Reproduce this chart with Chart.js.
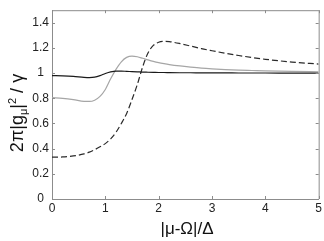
<!DOCTYPE html>
<html>
<head>
<meta charset="utf-8">
<script src="https://cdn.jsdelivr.net/npm/chart.js@4"></script>
<style>
  body { margin: 0; background: #fff; }
  canvas { display: block; }
</style>
</head>
<body>
<canvas id="chart1" width="324" height="241"></canvas>
<script>
// values
const xValues = [0, 0.2, 0.4, 0.6, 0.7, 0.8, 0.9, 1.0, 1.1, 1.2, 1.3, 1.4, 1.5, 1.6, 1.7, 1.8, 1.9, 2.0, 2.1, 2.2, 2.4, 2.6, 2.8, 3.0, 3.25, 3.5, 3.75, 4.0, 4.5, 5.0]
const solidValues = [0.980, 0.979, 0.975, 0.967, 0.965, 0.968, 0.980, 0.997, 1.010, 1.016, 1.016, 1.014, 1.012, 1.010, 1.008, 1.007, 1.006, 1.005, 1.005, 1.004, 1.003, 1.003, 1.002, 1.002, 1.002, 1.001, 1.001, 1.001, 1.000, 1.000]
const grayValues = [0.805, 0.800, 0.790, 0.776, 0.775, 0.785, 0.815, 0.870, 0.955, 1.030, 1.090, 1.125, 1.135, 1.130, 1.118, 1.105, 1.093, 1.083, 1.075, 1.068, 1.057, 1.048, 1.040, 1.034, 1.028, 1.024, 1.021, 1.018, 1.014, 1.011]
const dashedValues = [0.332, 0.334, 0.342, 0.358, 0.372, 0.392, 0.415, 0.440, 0.478, 0.530, 0.600, 0.680, 0.790, 0.910, 1.050, 1.160, 1.220, 1.245, 1.252, 1.250, 1.235, 1.215, 1.195, 1.178, 1.158, 1.140, 1.124, 1.110, 1.088, 1.072]
const xTicks = [0, 1, 2, 3, 4, 5]
const yTicks = [0, 0.2, 0.4, 0.6, 0.8, 1.0, 1.2, 1.4]

const FONT = "Arial, 'Liberation Sans', sans-serif"
const AXIS = '#8c8c8c'

let toPoints = (ys) => xValues.map((x, i) => ({ x, y: ys[i] }))

// box, inward ticks and axis titles like the matlab figure
const framePlugin = {
  id: 'frame',
  afterDraw(chart) {
    const { ctx, chartArea: a, scales } = chart
    ctx.save()
    ctx.strokeStyle = AXIS
    ctx.lineWidth = 1
    ctx.beginPath()
    ctx.moveTo(a.left, a.top + 0.5)
    ctx.lineTo(a.right + 0.5, a.top + 0.5)
    ctx.lineTo(a.right + 0.5, a.bottom)
    xTicks.forEach(v => {
      let px = Math.round(scales.x.getPixelForValue(v)) + 0.5
      ctx.moveTo(px, a.bottom); ctx.lineTo(px, a.bottom - 3)
      ctx.moveTo(px, a.top); ctx.lineTo(px, a.top + 3)
    })
    yTicks.forEach(v => {
      let py = Math.round(scales.y.getPixelForValue(v)) + 0.5
      ctx.moveTo(a.left, py); ctx.lineTo(a.left + 3, py)
      ctx.moveTo(a.right, py); ctx.lineTo(a.right - 3, py)
    })
    ctx.stroke()

    // x title
    ctx.fillStyle = '#111'
    ctx.font = '17px ' + FONT
    ctx.textAlign = 'center'
    ctx.textBaseline = 'middle'
    ctx.fillText('|μ-Ω|/Δ', 187, 229)

    // y title with sub/superscript
    const parts = [
      { t: '2π|g', size: 18, dy: 0 },
      { t: 'μ', size: 11, dy: 4 },
      { t: '|', size: 18, dy: 0 },
      { t: '2', size: 11, dy: -7 },
      { t: ' / γ', size: 18, dy: 0 }
    ]
    let total = 0
    parts.forEach(p => { ctx.font = p.size + 'px ' + FONT; p.w = ctx.measureText(p.t).width; total += p.w })
    ctx.translate(17, 113)
    ctx.rotate(-Math.PI / 2)
    ctx.textAlign = 'left'
    ctx.textBaseline = 'alphabetic'
    let cx = -total / 2
    parts.forEach(p => {
      ctx.font = p.size + 'px ' + FONT
      ctx.fillText(p.t, cx, 6 + p.dy)
      cx += p.w
    })
    ctx.restore()
  }
}

new Chart(document.getElementById('chart1').getContext('2d'), {
  type: 'line',
  data: {
    datasets: [{
      label: 'solid',
      data: toPoints(solidValues),
      borderColor: '#1a1a1a',
      borderWidth: 1.2,
      pointRadius: 0,
      cubicInterpolationMode: 'monotone'
    }, {
      label: 'gray',
      data: toPoints(grayValues),
      borderColor: '#a6a6a6',
      borderWidth: 1.2,
      pointRadius: 0,
      cubicInterpolationMode: 'monotone'
    }, {
      label: 'dashed',
      data: toPoints(dashedValues),
      borderColor: '#2a2a2a',
      borderWidth: 1.2,
      borderDash: [6, 3],
      pointRadius: 0,
      cubicInterpolationMode: 'monotone'
    }]
  },
  options: {
    responsive: false,
    animation: false,
    devicePixelRatio: 1,
    layout: { padding: { top: 2, right: 5, left: 0, bottom: 0 } },
    plugins: { legend: { display: false }, tooltip: { enabled: false } },
    scales: {
      x: {
        type: 'linear',
        min: 0,
        max: 5,
        afterBuildTicks: (s) => { s.ticks = xTicks.map(v => ({ value: v })) },
        afterFit: (s) => { s.height = 42 },
        grid: { display: false, drawTicks: false },
        border: { display: true, color: AXIS },
        ticks: { padding: 2, color: '#222', font: { family: FONT, size: 12 }, maxRotation: 0 }
      },
      y: {
        min: 0,
        max: 1.5,
        afterBuildTicks: (s) => { s.ticks = yTicks.map(v => ({ value: v })) },
        afterFit: (s) => { s.width = 52 },
        grid: { display: false, drawTicks: false },
        border: { display: true, color: AXIS },
        ticks: {
          padding: 3,
          crossAlign: 'center',
          color: '#222',
          font: { family: FONT, size: 12 },
          callback: (v) => String(Math.round(v * 10) / 10)
        }
      }
    }
  },
  plugins: [framePlugin]
})
</script>
</body>
</html>
